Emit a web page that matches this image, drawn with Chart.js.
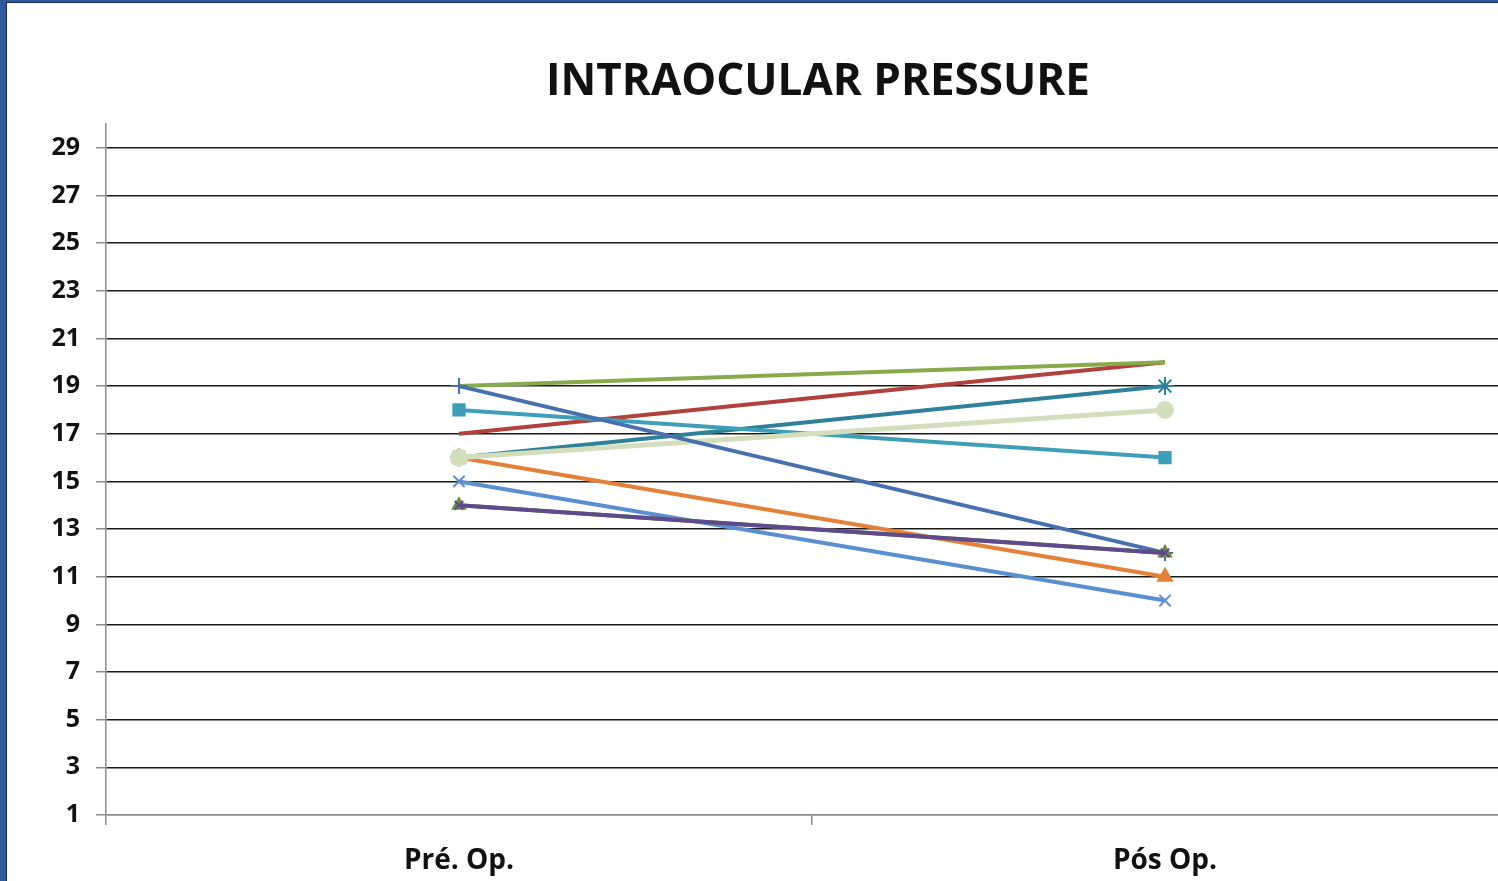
<!DOCTYPE html>
<html>
<head>
<meta charset="utf-8">
<script src="https://cdn.jsdelivr.net/npm/chart.js@4/dist/chart.umd.min.js"></script>
<style>
  html, body { margin: 0; padding: 0; background: #fff; overflow: hidden; }
  #frame { position: absolute; left: 0; top: 0; width: 1498px; height: 881px; overflow: hidden;
           box-sizing: border-box; border-left: 6px solid #2E5B9F; border-top: 2px solid #2E5B9F; }
  #inner { position: absolute; left: 0; top: 0; right: 0; bottom: 0; overflow: hidden;
           border-left: 1px solid #1b2a44; border-top: 1px solid #1b2a44; background: #fff; }
  #wrap { position: absolute; left: 1px; top: 1px; width: 1620px; height: 877px; }
</style>
</head>
<body>
<div id="frame"><div id="inner"><div id="wrap"><canvas id="iopChart" width="1620" height="877"></canvas></div></div></div>
<script>
const categories = ['Pré. Op.', 'Pós Op.'];
const yTicks = [1, 3, 5, 7, 9, 11, 13, 15, 17, 19, 21, 23, 25, 27, 29];
const chartTitle = 'INTRAOCULAR PRESSURE';

// one pair of readings per eye (pre, post)
const eyeA = [19, 12];
const eyeB = [17, 20];
const eyeC = [19, 20];
const eyeD = [18, 16];
const eyeE = [16, 19];
const eyeF = [16, 18];
const eyeG = [16, 11];
const eyeH = [15, 10];
const eyeI = [14, 12];
const eyeJ = [14, 12];

function series(data, color, style, radius, width) {
  return {
    data: data,
    borderColor: color,
    backgroundColor: color,
    borderWidth: width || 4,
    pointStyle: style,
    pointRadius: radius,
    pointBorderWidth: 2,
    pointHoverRadius: radius
  };
}

// title centred over the plot area (Excel style), not over the whole canvas
const plotTitle = {
  id: 'plotTitle',
  afterDraw(chart) {
    const c = chart.ctx;
    const area = chart.chartArea;
    c.save();
    c.fillStyle = '#111';
    c.font = 'bold 44px "Open Sans"';
    c.textAlign = 'center';
    c.textBaseline = 'middle';
    c.fillText(chartTitle, (area.left + area.right) / 2 + 6, 78);
    c.restore();
  }
};

const ctx = document.getElementById('iopChart').getContext('2d');

new Chart(ctx, {
  type: 'line',
  data: {
    labels: categories,
    datasets: [
      series(eyeI, '#5E4A8C', 'crossRot', 6),
      series(eyeJ, '#6E8B3D', 'triangle', 7),
      series(eyeA, '#4870AE', 'cross', 8),
      series(eyeH, '#5B8FD2', 'crossRot', 8),
      series(eyeF, '#D5DEBC', 'circle', 8, 5),
      series(eyeG, '#E3803A', 'triangle', 8),
      series(eyeC, '#87AA4A', 'circle', 0),
      series(eyeD, '#3F9EB8', 'rect', 8),
      series(eyeE, '#2F8199', 'star', 9),
      series(eyeB, '#B0413E', 'circle', 0)
    ]
  },
  plugins: [plotTitle],
  options: {
    responsive: false,
    animation: false,
    layout: { padding: { left: 0, right: 110, top: 120, bottom: 0 } },
    scales: {
      x: {
        offset: true,
        afterFit: (scale) => { scale.height = 66; },
        border: { color: '#8c8c8c', width: 1.5 },
        grid: {
          offset: true,
          drawOnChartArea: false,
          tickLength: 10,
          color: '#8c8c8c',
          lineWidth: 1.5
        },
        ticks: {
          color: '#111',
          padding: 19,
          font: { family: 'Open Sans', size: 28, weight: 'bold' }
        }
      },
      y: {
        min: 1,
        max: 30,
        afterFit: (scale) => { scale.width = 98; },
        afterBuildTicks: (scale) => { scale.ticks = yTicks.map(v => ({ value: v })); },
        border: { color: '#8c8c8c', width: 1.5 },
        grid: {
          tickLength: 10,
          color: (c) => c.tick && c.tick.value === 1 ? '#8c8c8c' : '#1a1a1a',
          tickColor: '#8c8c8c',
          lineWidth: 1.5
        },
        ticks: {
          color: '#111',
          padding: 16,
          font: { family: 'Open Sans', size: 25, weight: 'bold' }
        }
      }
    },
    plugins: {
      legend: { display: false },
      tooltip: { enabled: false },
      title: { display: false }
    }
  }
});
</script>
</body>
</html>
